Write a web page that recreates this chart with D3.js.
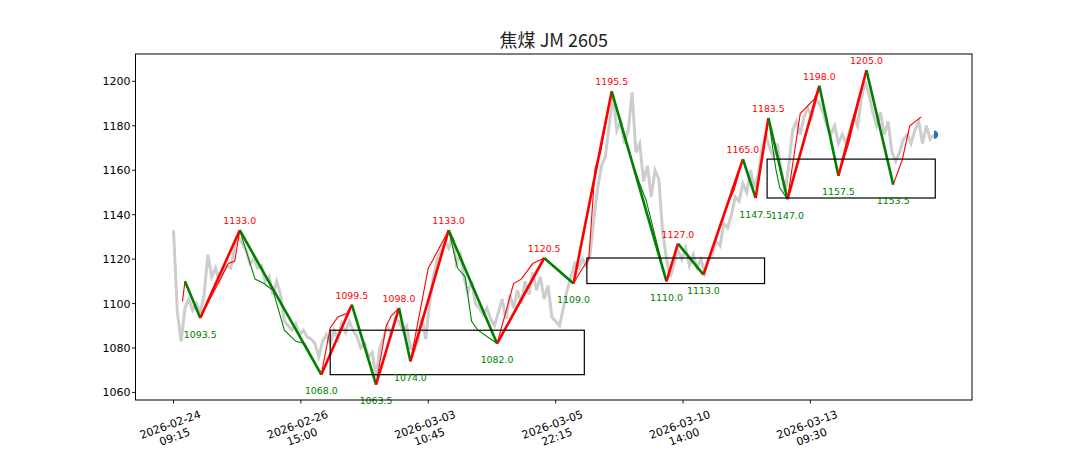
<!DOCTYPE html>
<html><head><meta charset="utf-8">
<script src="https://cdn.jsdelivr.net/npm/d3@7"></script>
<style>html,body{margin:0;padding:0;background:#fff;}svg{display:block;}</style>
</head><body>
<svg id="chart" width="1080" height="450"></svg>
<script>
// ---------- data ----------
const titleText = "焦煤 JM 2605";
const tickIdx = [0, 100, 200, 300, 400, 500];
const tickDates = ["2026-02-24", "2026-02-26", "2026-03-03", "2026-03-05", "2026-03-10", "2026-03-13"];
const tickTimes = ["09:15", "15:00", "10:45", "22:15", "14:00", "09:30"];
const yTicks = [1060, 1080, 1100, 1120, 1140, 1160, 1180, 1200];

// close price, one value every 3 bars (bar index = 3*i)
const grayStep = 3;
const grayClose = [
 1133,1096,1083,1098,1102,1097,1100,1096,1104,1122,
 1112,1116,1110,1114,1117,1116,1126,1130,1127,1124,
 1118,1120,1116,1117,1110,1112,1104,1110,1104,1092,
 1090,1088,1091,1086,1088,1085,1084,1082,1076,1083,
 1086,1082,1088,1084,1091,1087,1092,1088,1085,1080,
 1082,1076,1078,1067,1080,1085,1090,1086,1093,1092,
 1088,1090,1080,1079,1084,1094,1084,1100,1112,1120,
 1124,1128,1125,1130,1118,1122,1112,1105,1110,1100,
 1098,1095,1098,1093,1090,1096,1102,1093,1104,1098,
 1106,1100,1110,1104,1114,1106,1112,1102,1108,1094,
 1092,1090,1098,1106,1112,1118,1116,1120,1117,1122,
 1138,1152,1162,1166,1180,1194,1178,1182,1172,1178,
 1195,1168,1172,1155,1162,1148,1160,1156,1132,1120,
 1112,1118,1124,1120,1125,1117,1122,1116,1120,1114,
 1120,1122,1128,1126,1136,1134,1140,1148,1146,1154,
 1150,1160,1152,1158,1170,1176,1170,1166,1172,1160,
 1150,1162,1178,1182,1176,1184,1188,1184,1192,1190,
 1186,1180,1176,1180,1172,1176,1172,1178,1184,1180,
 1192,1200,1194,1186,1180,1186,1176,1182,1168,1164,
 1168,1174,1176,1172,1178,1182,1172,1180,1174,1176
];

// zigzag pivots (bar index, price)
const pivotIdx = [9, 21, 52, 116, 140, 159, 177, 186, 216, 254, 291, 314, 344, 387, 396, 416, 447, 457, 467, 482, 507, 522, 544, 565];
const pivotVal = [1110, 1093.5, 1133, 1068, 1099.5, 1063.5, 1098, 1074, 1133, 1082, 1120.5, 1109, 1195.5, 1110, 1127, 1113, 1165, 1147.5, 1183.5, 1147, 1198, 1157.5, 1205, 1153.5];

// thin sub-level strokes
const thinRed = [
 [[7, 1101], [9, 1110]],
 [[21, 1093.5], [43, 1118], [48, 1119], [52, 1133]],
 [[116, 1068], [123, 1089], [129, 1094], [136, 1095.5], [140, 1099.5]],
 [[159, 1063.5], [167, 1090], [171, 1094.5], [177, 1098]],
 [[186, 1074], [200, 1116], [204, 1120], [209, 1125.5], [216, 1133]],
 [[254, 1082], [267, 1109], [273, 1111], [282, 1118], [291, 1120.5]],
 [[314, 1109], [319, 1114], [326, 1120], [331, 1161], [335, 1167.5], [344, 1195.5]],
 [[416, 1113], [436, 1146], [440, 1151], [447, 1165]],
 [[482, 1147], [492, 1185.5], [503, 1192], [507, 1198]],
 [[522, 1157.5], [530, 1172], [544, 1205]],
 [[565, 1153.5], [572, 1164.5], [578, 1180], [587, 1184]]
];
const thinGreen = [
 [[52, 1133], [64, 1111], [71, 1109], [78, 1106], [87, 1088], [96, 1083], [103, 1082], [116, 1068]],
 [[216, 1133], [223, 1116], [229, 1112], [234, 1092], [239, 1088], [254, 1082]],
 [[344, 1195.5], [356, 1170.5], [366, 1154], [371, 1146.5], [387, 1110]],
 [[467, 1183.5], [473, 1160], [476, 1152], [482, 1147]]
];

// central zones
const boxStart = [123, 324.5, 466];
const boxEnd = [322.5, 464, 598];
const boxLow = [1068, 1109, 1147.5];
const boxHigh = [1088, 1120.5, 1165];

const lastIdx = 597, lastVal = 1176;

// ---------- chart ----------
const svg = d3.select("#chart");
const L = 135.5, R = 972, T = 54, B = 400;
const x = d3.scaleLinear().domain([-29.85, 626.85]).range([L, R]);
const y = d3.scaleLinear().domain([1056.6, 1212.3]).range([B, T]);

const plot = svg.append("g");
plot.append("clipPath").attr("id", "clip").append("rect")
  .attr("x", L).attr("y", T).attr("width", R - L).attr("height", B - T);
const inner = plot.append("g").attr("clip-path", "url(#clip)");

const line = d3.line().x(d => x(d[0])).y(d => y(d[1]));

// gray price
inner.append("path")
  .datum(grayClose.map((v, i) => [i * grayStep, v]))
  .attr("d", line).attr("fill", "none")
  .attr("stroke", "#cdcdcd").attr("stroke-width", 3).attr("stroke-linejoin", "miter");

// thin lines
thinRed.forEach(seg => inner.append("path").datum(seg).attr("d", line)
  .attr("fill", "none").attr("stroke", "#ff0000").attr("stroke-width", 1.1));
thinGreen.forEach(seg => inner.append("path").datum(seg).attr("d", line)
  .attr("fill", "none").attr("stroke", "#008000").attr("stroke-width", 1.1));

// thick zigzag
for (let i = 0; i < pivotIdx.length - 1; i++) {
  const a = [pivotIdx[i], pivotVal[i]], b = [pivotIdx[i + 1], pivotVal[i + 1]];
  inner.append("path").datum([a, b]).attr("d", line).attr("fill", "none")
    .attr("stroke", b[1] > a[1] ? "#ff0000" : "#008000")
    .attr("stroke-width", 2.6).attr("stroke-linecap", "butt");
}

// boxes
boxStart.forEach((s, i) => {
  inner.append("rect")
    .attr("x", x(s)).attr("y", y(boxHigh[i]))
    .attr("width", x(boxEnd[i]) - x(s)).attr("height", y(boxLow[i]) - y(boxHigh[i]))
    .attr("fill", "none").attr("stroke", "#000").attr("stroke-width", 1.2);
});

// last point marker
const arc = d3.arc()({innerRadius: 0, outerRadius: 4.2, startAngle: 0, endAngle: Math.PI});
inner.append("path").attr("d", arc)
  .attr("transform", `translate(${x(lastIdx)},${y(lastVal)})`)
  .attr("fill", "#1f77b4");

// pivot labels
pivotIdx.forEach((p, i) => {
  if (i === 0) return;
  const isPeak = (i + 1 < pivotVal.length ? pivotVal[i] > pivotVal[i + 1] : pivotVal[i] > pivotVal[i - 1]);
  svg.append("text")
    .attr("x", x(p)).attr("y", y(pivotVal[i]) + (isPeak ? -6 : 19.5))
    .attr("text-anchor", "middle")
    .attr("font-family", "DejaVu Sans").attr("font-size", 9.4)
    .attr("fill", isPeak ? "#ff0000" : "#008000")
    .text(pivotVal[i].toFixed(1));
});

// spines
svg.append("rect").attr("x", L).attr("y", T).attr("width", R - L).attr("height", B - T)
  .attr("fill", "none").attr("stroke", "#000").attr("stroke-width", 1);

// y axis
yTicks.forEach(v => {
  svg.append("line").attr("x1", L - 3.5).attr("x2", L).attr("y1", y(v)).attr("y2", y(v))
    .attr("stroke", "#000").attr("stroke-width", 0.9);
  svg.append("text").attr("x", L - 5).attr("y", y(v) + 4)
    .attr("text-anchor", "end").attr("font-family", "DejaVu Sans").attr("font-size", 11)
    .attr("fill", "#000").text(v);
});

// x axis
tickIdx.forEach((t, i) => {
  svg.append("line").attr("x1", x(t)).attr("x2", x(t)).attr("y1", B).attr("y2", B + 3.5)
    .attr("stroke", "#000").attr("stroke-width", 0.9);
  const g = svg.append("g").attr("transform", `translate(${x(t) - 1},${431}) rotate(-20)`);
  const txt = g.append("text").attr("text-anchor", "middle")
    .attr("font-family", "DejaVu Sans").attr("font-size", 11).attr("fill", "#000");
  txt.append("tspan").attr("x", 0).attr("y", -3).text(tickDates[i]);
  txt.append("tspan").attr("x", 0).attr("y", 10).text(tickTimes[i]);
});

// title
svg.append("text").attr("x", (L + R) / 2).attr("y", 47)
  .attr("text-anchor", "middle").attr("font-family", "Noto Sans CJK SC")
  .attr("font-size", 18).attr("fill", "#222").text(titleText);
</script>
</body></html>
